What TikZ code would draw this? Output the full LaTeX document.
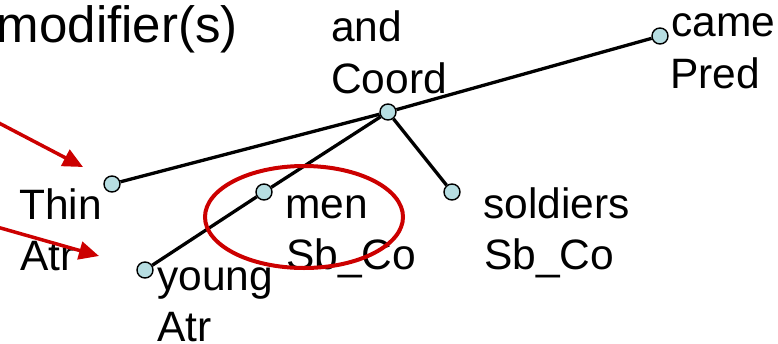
\documentclass[tikz,border=0pt]{standalone}
\usepackage{fontspec}
\setmainfont{Liberation Sans}
\usetikzlibrary{arrows.meta,shapes.geometric}
\definecolor{nodefill}{RGB}{183,222,226}
\definecolor{hl}{RGB}{204,0,0}
\begin{document}
\begin{tikzpicture}[x=1pt,y=-1pt,
  tok/.style={circle,draw=black,line width=1.4pt,fill=nodefill,minimum size=16pt,inner sep=0pt},
  lbl/.style={anchor=base west,inner sep=0pt,font=\fontsize{42.5}{50}\selectfont},
  dep/.style={line width=3.3pt},
  ann/.style={draw=hl,line width=3.5pt,-{Triangle[length=20pt,width=18pt]}},
  oval/.style={ellipse,draw=hl,line width=4pt,minimum width=198pt,minimum height=102pt,inner sep=0pt}]
\useasboundingbox (0,0) rectangle (778,343);
% tree nodes
\node[tok] (came) at (660,36) {};
\node[tok] (and) at (388,112) {};
\node[tok] (thin) at (112,184) {};
\node[tok] (men) at (264,192) {};
\node[tok] (young) at (145,270) {};
\node[tok] (sold) at (452,192) {};
% dependencies
\draw[dep] (came) -- (and);
\draw[dep] (and) -- (thin);
\draw[dep] (and) -- (men);
\draw[dep] (men) -- (young);
\draw[dep] (and) -- (sold);
% labels
\node[lbl,anchor=base east,font=\fontsize{51}{60}\selectfont] (tmod) at (238,42) {modifier(s)};
\node[lbl] (tand) at (331,41) {and};
\node[lbl] (tcoord) at (331,93) {Coord};
\node[lbl] (tcame) at (671,36) {came};
\node[lbl] (tpred) at (670,88) {Pred};
\node[lbl] (tthin) at (19,219) {Thin};
\node[lbl] (tatr1) at (20,270) {Atr};
\node[lbl] (tmen) at (285,218) {men};
\node[lbl] (tsb1) at (286,269) {Sb\_Co};
\node[lbl] (tyoung) at (157,290) {young};
\node[lbl] (tatr2) at (157,341) {Atr};
\node[lbl] (tsold) at (483,218) {soldiers};
\node[lbl] (tsb2) at (484,269) {Sb\_Co};
% highlight
\node[oval] (ring) at (304,217) {};
\coordinate (a1s) at (-3,122);
\coordinate (a1e) at (83,167);
\coordinate (a2s) at (-3,227);
\coordinate (a2e) at (99,256);
\draw[ann] (a1s) -- (a1e);
\draw[ann] (a2s) -- (a2e);
\end{tikzpicture}
\end{document}
